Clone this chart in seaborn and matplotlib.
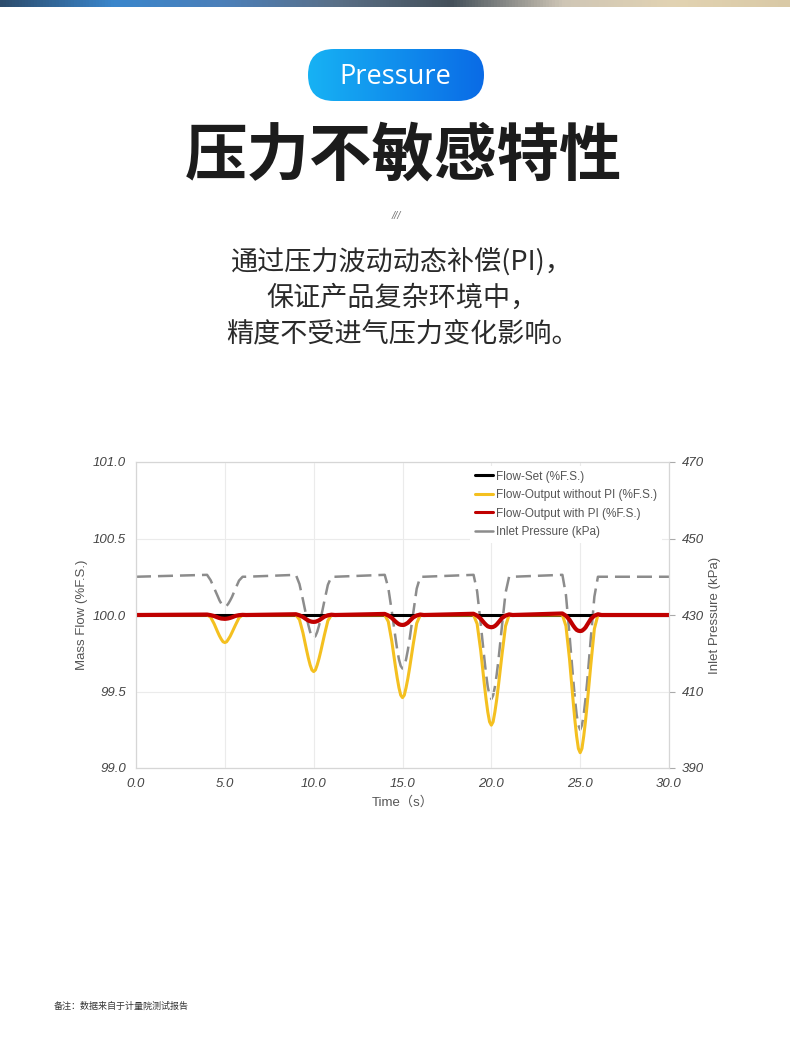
import numpy as np
import pandas as pd
import matplotlib.pyplot as plt
import seaborn as sns
from matplotlib.patches import FancyBboxPatch
from matplotlib.lines import Line2D
from matplotlib.colors import LinearSegmentedColormap

# values
dip_centers = [5.0, 10.0, 15.0, 20.0, 25.0]
dip_offsets = [-1.0, -0.8, -0.6, -0.4, -0.3, -0.2, -0.1, 0.0, 0.1, 0.2, 0.3, 0.4, 0.6, 0.8, 1.0, 1.2]
t_start, t_end = 0.0, 30.0

flow_set_level = 100.0
pressure_level = 440.0

pressure_dips = [
    [440.5, 439.1, 437.0, 434.9, 433.8, 433.0, 432.4, 432.2, 432.4, 433.0, 433.8, 434.7, 436.9, 439.0, 440.0, 440.0],
    [440.5, 438.1, 433.9, 429.4, 427.4, 425.6, 424.5, 424.0, 424.5, 425.6, 427.2, 429.1, 433.6, 437.9, 440.0, 440.0],
    [440.5, 437.1, 430.9, 424.2, 421.0, 418.4, 416.7, 416.0, 416.7, 418.4, 420.8, 423.7, 430.4, 436.9, 440.0, 440.0],
    [440.5, 436.2, 427.8, 418.9, 414.7, 411.2, 409.0, 408.0, 409.0, 411.2, 414.4, 418.2, 427.2, 435.8, 440.0, 440.0],
    [440.5, 435.2, 424.8, 413.6, 408.4, 404.0, 401.2, 400.0, 401.2, 404.0, 408.0, 412.8, 424.0, 434.8, 440.0, 440.0],
]
no_pi_dips = [
    [100.0, 99.986, 99.942, 99.888, 99.863, 99.842, 99.825, 99.82, 99.825, 99.842, 99.861, 99.885, 99.935, 99.982, 100.0, 100.0],
    [100.0, 99.970, 99.882, 99.771, 99.719, 99.674, 99.641, 99.63, 99.641, 99.674, 99.715, 99.763, 99.867, 99.963, 100.0, 100.0],
    [100.0, 99.957, 99.827, 99.665, 99.590, 99.525, 99.476, 99.46, 99.476, 99.525, 99.584, 99.654, 99.806, 99.946, 100.0, 100.0],
    [100.0, 99.942, 99.770, 99.554, 99.453, 99.366, 99.302, 99.28, 99.302, 99.366, 99.446, 99.539, 99.741, 99.928, 100.0, 100.0],
    [100.0, 99.928, 99.712, 99.442, 99.316, 99.208, 99.127, 99.10, 99.127, 99.208, 99.307, 99.424, 99.676, 99.910, 100.0, 100.0],
]
with_pi_dips = [
    [100.003, 99.999, 99.993, 99.984, 99.980, 99.977, 99.976, 99.975, 99.976, 99.978, 99.981, 99.985, 99.994, 99.999, 100.001, 100.0],
    [100.005, 99.998, 99.987, 99.971, 99.964, 99.959, 99.956, 99.955, 99.956, 99.960, 99.965, 99.973, 99.989, 99.998, 100.002, 100.0],
    [100.007, 99.997, 99.981, 99.958, 99.948, 99.940, 99.936, 99.935, 99.936, 99.942, 99.949, 99.961, 99.984, 99.997, 100.003, 100.0],
    [100.008, 99.996, 99.976, 99.948, 99.936, 99.926, 99.922, 99.920, 99.922, 99.928, 99.938, 99.952, 99.980, 99.996, 100.004, 100.0],
    [100.010, 99.995, 99.969, 99.932, 99.916, 99.903, 99.897, 99.895, 99.897, 99.906, 99.918, 99.937, 99.974, 99.995, 100.005, 100.0],
]

x_ticks = [0.0, 5.0, 10.0, 15.0, 20.0, 25.0, 30.0]
x_tick_labels = ['0.0', '5.0', '10.0', '15.0', '20.0', '25.0', '30.0']
flow_ticks = [99.0, 99.5, 100.0, 100.5, 101.0]
flow_tick_labels = ['99.0', '99.5', '100.0', '100.5', '101.0']
pressure_ticks = [390, 410, 430, 450, 470]
pressure_tick_labels = ['390', '410', '430', '450', '470']

series_names = ['Flow-Set (%F.S.)', 'Flow-Output without PI (%F.S.)',
                'Flow-Output with PI (%F.S.)', 'Inlet Pressure (kPa)']

badge_text = 'Pressure'
title_text = '压力不敏感特性'
subtitle_lines = ['通过压力波动动态补偿(PI)，', '保证产品复杂环境中，', '精度不受进气压力变化影响。']
footnote = '备注：数据来自于计量院测试报告'

# build table
time = [t_start] + [c + o for c in dip_centers for o in dip_offsets] + [t_end]
df = pd.DataFrame({
    'time': time,
    'flow_set': [flow_set_level] * len(time),
    'no_pi': [flow_set_level] + [v for d in no_pi_dips for v in d] + [flow_set_level],
    'with_pi': [flow_set_level] + [v for d in with_pi_dips for v in d] + [flow_set_level],
    'pressure': [pressure_level] + [v for d in pressure_dips for v in d] + [pressure_level],
})

sns.set_style('white')
plt.rcParams['font.family'] = ['Liberation Sans', 'Noto Sans CJK SC', 'DejaVu Sans']

fig = plt.figure(figsize=(7.9, 10.58), dpi=100)
fig.patch.set_facecolor('white')

# page decoration in pixel coordinates
bg = fig.add_axes([0, 0, 1, 1])
bg.set_xlim(0, 790)
bg.set_ylim(1058, 0)
bg.axis('off')

band_cmap = LinearSegmentedColormap.from_list(
    'band', ['#2c4c6c', '#3a86cc', '#4c7fb8', '#5a6f86', '#44505a', '#cfc6b6', '#e2d3b2', '#d9c9a6'])
bg.imshow(np.linspace(0, 1, 256)[None, :], extent=(0, 790, 7, 0), cmap=band_cmap, aspect='auto')

pill = FancyBboxPatch((308, 49), 176, 52, boxstyle='round,pad=0,rounding_size=26',
                      facecolor='none', edgecolor='none')
bg.add_patch(pill)
pill_cmap = LinearSegmentedColormap.from_list('pill', ['#17b2f4', '#0a6be6'])
im = bg.imshow(np.linspace(0, 1, 256)[None, :], extent=(308, 484, 101, 49), cmap=pill_cmap, aspect='auto')
im.set_clip_path(pill)
bg.text(395, 77, badge_text, color='white', fontsize=19.5, family=['Open Sans'],
        ha='center', va='center')

bg.text(404, 156, title_text, fontsize=45, fontweight='heavy', family=['Noto Sans CJK SC'],
        ha='center', va='center', color='#1c1c1c')
bg.text(396, 216, '///', fontsize=8, color='#777777', style='italic', ha='center', va='center')
for i, line in enumerate(subtitle_lines):
    bg.text(402, 263 + i * 35.5, line, fontsize=19.5, fontweight='light',
            family=['Noto Sans CJK SC', 'DejaVu Sans'],
            ha='center', va='center', color='#2a2a2a')
bg.text(54, 1006, footnote, fontsize=6.5, family=['Noto Sans CJK SC'], color='#333333', va='center')
bg.set_xlim(0, 790)
bg.set_ylim(1058, 0)

# chart
ax = fig.add_axes([136 / 790, 1 - 768 / 1058, 533 / 790, 306 / 1058])
ax2 = ax.twinx()

sns.lineplot(data=df, x='time', y='pressure', ax=ax2, color='#8c8c8c', lw=1.8,
             linestyle=(0, (6, 2.8)))
sns.lineplot(data=df, x='time', y='flow_set', ax=ax, color='black', lw=2.2)
sns.lineplot(data=df, x='time', y='no_pi', ax=ax, color='#f4c020', lw=2.2)
sns.lineplot(data=df, x='time', y='with_pi', ax=ax, color='#c00000', lw=3.0)

ax.set_zorder(ax2.get_zorder() + 1)
ax.patch.set_visible(False)

ax.set_xlim(t_start, t_end)
ax.set_ylim(99.0, 101.0)
ax2.set_ylim(390, 470)
ax.set_xticks(x_ticks)
ax.set_xticklabels(x_tick_labels)
ax.set_yticks(flow_ticks)
ax.set_yticklabels(flow_tick_labels)
ax2.set_yticks(pressure_ticks)
ax2.set_yticklabels(pressure_tick_labels)

ax.grid(True, color='#ebebeb', lw=0.8)
ax.set_axisbelow(True)

for a in (ax, ax2):
    for sp in a.spines.values():
        sp.set_color('#d6d6d6')
        sp.set_linewidth(0.8)

ax.tick_params(axis='both', length=0, labelsize=9.5, labelcolor='#444444')
ax.tick_params(axis='x', pad=7)
ax.tick_params(axis='y', pad=7)
ax2.tick_params(axis='y', length=4, color='#aaaaaa', labelsize=9.5, labelcolor='#444444', pad=5)
for lab in ax.get_xticklabels() + ax.get_yticklabels() + ax2.get_yticklabels():
    lab.set_style('italic')

ax.set_xlabel('Time（s）', fontsize=9.5, color='#555555', labelpad=5,
              family=['Liberation Sans', 'Noto Sans CJK SC'])
ax.set_ylabel('Mass Flow (%F.S.)', fontsize=9.5, color='#555555', labelpad=4)
ax2.set_ylabel('Inlet Pressure (kPa)', fontsize=9.5, color='#555555', labelpad=4)

handles = [
    Line2D([], [], color='black', lw=2.2),
    Line2D([], [], color='#f4c020', lw=2.2),
    Line2D([], [], color='#c00000', lw=2.2),
    Line2D([], [], color='#8c8c8c', lw=1.8),
]
leg = ax.legend(handles, series_names, loc='upper left', bbox_to_anchor=(0.622, 0.995),
                fontsize=8.5, frameon=True, facecolor='white', edgecolor='none', framealpha=1,
                handlelength=1.6, handletextpad=0.25, labelspacing=0.55, borderaxespad=0.2)
for txt in leg.get_texts():
    txt.set_color('#555555')

fig.savefig('out.png', dpi=100)
